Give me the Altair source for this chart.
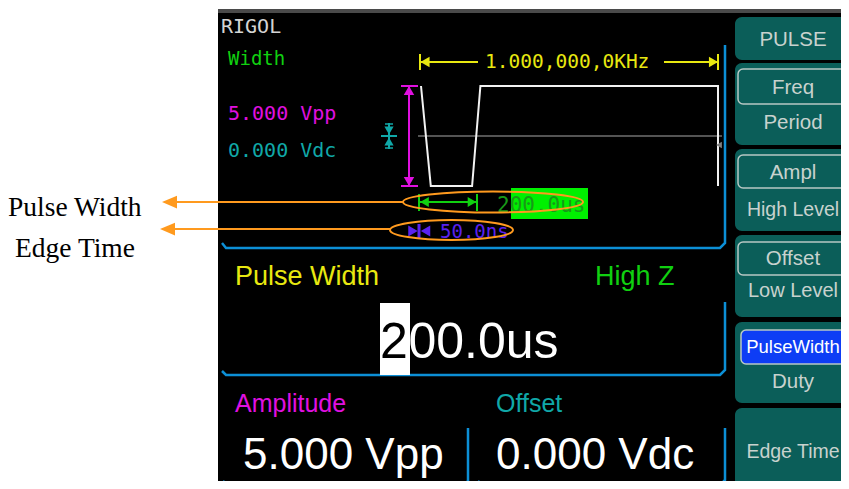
import altair as alt
import pandas as pd

# ------------------------------------------------------------------ content
SOFTKEY_LABELS = ["PULSE", "Freq", "Period", "Ampl", "High Level",
                  "Offset", "Low Level", "PulseWidth", "Duty", "Edge Time"]
STATUS_LABELS = ["RIGOL", "Width", "5.000 Vpp", "0.000 Vdc"]
FREQ_LABEL = "1.000,000,0KHz"
WIDTH_LABEL = "200.0us"
EDGE_LABEL = "50.0ns"
FIELD_LABELS = ["Pulse Width", "High Z", "Amplitude", "Offset"]
CURSOR_DIGIT = "2"                 # highlighted digit of the edited value
FIELD_VALUES = ["00.0us", "5.000 Vpp", "0.000 Vdc"]   # rest of "200.0us"
CALLOUT_LABELS = ["Pulse Width", "Edge Time"]

# pulse preview: time (us) and level (V); 1 ms period, 200 us width, 5 Vpp
WAVE_T_US = [0, 33, 172, 200, 1000, 1000]
WAVE_V = [2.5, -2.5, -2.5, 2.5, 2.5, -2.5]

# ------------------------------------------------------------------ layout
# (screen pixel geometry of the instrument display)
PREVIEW_X0, PX_PER_US = 421, 0.297
PREVIEW_YMID, PX_PER_V = 136, 20

XS = alt.Scale(domain=[8, 841], nice=False, zero=False)
YS = alt.Scale(domain=[8, 481], nice=False, zero=False, reverse=True)


def X(f):
    return alt.X(f, type="quantitative", scale=XS, axis=None)


def Y(f):
    return alt.Y(f, type="quantitative", scale=YS, axis=None)


def rect_layer(rows, radius=0, stroke=None, sw=0):
    d = pd.DataFrame(rows, columns=["x0", "x1", "y0", "y1", "fill"])
    kw = dict(cornerRadius=radius)
    if stroke:
        kw.update(stroke=stroke, strokeWidth=sw)
    return alt.Chart(d).mark_rect(**kw).encode(
        x=X("x0"), x2=alt.X2("x1"), y=Y("y0"), y2=alt.Y2("y1"),
        fill=alt.Fill("fill:N", scale=None))


def rule_layer(rows):
    d = pd.DataFrame(rows, columns=["x0", "x1", "y0", "y1", "c", "w"])
    return alt.Chart(d).mark_rule().encode(
        x=X("x0"), x2=alt.X2("x1"), y=Y("y0"), y2=alt.Y2("y1"),
        color=alt.Color("c:N", scale=None),
        strokeWidth=alt.StrokeWidth("w:Q", scale=None))


def point_layer(rows, filled=True, sw=0):
    d = pd.DataFrame(rows, columns=["x", "y", "shape", "size", "c"])
    return alt.Chart(d).mark_point(filled=filled, opacity=1, strokeWidth=sw).encode(
        x=X("x"), y=Y("y"),
        shape=alt.Shape("shape:N", scale=None),
        size=alt.Size("size:Q", scale=None),
        color=alt.Color("c:N", scale=None))


def text_layer(texts, xs, ys, colors, sizes, font, align="left",
               baseline="alphabetic"):
    d = pd.DataFrame({"t": texts, "x": xs, "y": ys, "c": colors, "s": sizes})
    return alt.Chart(d).mark_text(font=font, align=align, baseline=baseline).encode(
        x=X("x"), y=Y("y"), text="t:N",
        color=alt.Color("c:N", scale=None),
        size=alt.Size("s:Q", scale=None))


def ellipse_path(k):
    q = 0.5523
    return (f"M -1 0 C -1 {-q*k:.4f} {-q:.4f} {-k:.4f} 0 {-k:.4f} "
            f"C {q:.4f} {-k:.4f} 1 {-q*k:.4f} 1 0 "
            f"C 1 {q*k:.4f} {q:.4f} {k:.4f} 0 {k:.4f} "
            f"C {-q:.4f} {k:.4f} -1 {q*k:.4f} -1 0 Z")


TEAL_BTN = "#0b5e59"
BTN_TEXT = "#c8d2ce"
FRAME = "#0c8fd6"
MAG = "#e010e0"
CYAN = "#10a8a8"
YEL = "#e8e810"
GRN = "#10d010"
PURP = "#5a22f0"
ORANGE = "#ff9a1e"

layers = []

# display background
layers.append(rect_layer([
    [218, 870, 13, 500, "#000000"],
    [218, 870, 9, 13, "#4a4a4a"],
]))

# soft keys
layers.append(rect_layer([
    [735, 880, 17, 60, TEAL_BTN],
    [735, 880, 63, 145, TEAL_BTN],
    [735, 880, 149, 231, TEAL_BTN],
    [735, 880, 235, 317, TEAL_BTN],
    [735, 880, 322, 403, TEAL_BTN],
    [735, 880, 408, 500, TEAL_BTN],
], radius=7))
layers.append(rect_layer([
    [738, 880, 69, 104, TEAL_BTN],
    [738, 880, 155, 188, TEAL_BTN],
    [738, 880, 242, 275, TEAL_BTN],
    [741, 880, 330, 364, "#0d3df5"],
], radius=5, stroke="#b8c8c4", sw=1.5))

# blue frames
frames = [
    [(222, 243), (226, 248), (720, 248), (725, 243), (725, 45)],
    [(222, 371), (226, 375), (720, 375), (725, 370), (725, 302)],
    [(223, 481), (227, 485), (464, 485), (468, 481), (468, 428)],
    [(478, 481), (482, 485), (720, 485), (725, 480), (725, 428)],
]
fr = [{"seg": s, "i": i, "x": p[0], "y": p[1]}
      for s, pts in enumerate(frames) for i, p in enumerate(pts)]
layers.append(alt.Chart(pd.DataFrame(fr)).mark_line(
    color=FRAME, strokeWidth=2.5).encode(
    x=X("x"), y=Y("y"), detail="seg:N", order="i:Q"))

# center line and waveform
layers.append(rule_layer([[418, 722, PREVIEW_YMID, PREVIEW_YMID, "#707070", 1.5]]))
wave = pd.DataFrame({
    "i": range(len(WAVE_T_US)),
    "x": [PREVIEW_X0 + t * PX_PER_US for t in WAVE_T_US],
    "y": [PREVIEW_YMID - v * PX_PER_V for v in WAVE_V],
})
layers.append(alt.Chart(wave).mark_line(color="#f2f2f2", strokeWidth=2).encode(
    x=X("x"), y=Y("y"), order="i:Q"))

# markers (amplitude, offset, period, width, edge)
layers.append(rule_layer([
    [409, 409, 86, 186, MAG, 2], [401, 418, 86, 86, MAG, 2], [401, 418, 186, 186, MAG, 2],
    [389, 389, 123, 149, CYAN, 2], [381, 397, 136, 136, CYAN, 2],
    [385, 393, 124, 124, CYAN, 1.5], [385, 393, 148, 148, CYAN, 1.5],
    [420, 478, 62, 62, YEL, 2], [664, 718, 62, 62, YEL, 2],
    [420, 420, 54, 70, YEL, 2], [718, 718, 54, 70, YEL, 2],
    [419, 477, 202, 202, GRN, 2], [419, 419, 194, 211, GRN, 2], [477, 477, 194, 211, GRN, 2],
    [419, 419, 224, 238, PURP, 3],
]))
layers.append(point_layer([
    [409, 90.5, "triangle-up", 110, MAG], [409, 181.5, "triangle-down", 110, MAG],
    [389, 130.5, "triangle-down", 85, CYAN], [389, 141.5, "triangle-up", 85, CYAN],
    [425, 62, "triangle-left", 110, YEL], [713.5, 62, "triangle-right", 110, YEL],
    [424.5, 202, "triangle-left", 100, GRN], [472, 202, "triangle-right", 100, GRN],
    [413, 231, "triangle-right", 120, PURP], [425.5, 231, "triangle-left", 120, PURP],
    [719, 145, "triangle-left", 45, "#808080"],
]))

# highlight boxes
layers.append(rect_layer([
    [511, 588, 188, 219, "#00f000"],
    [380, 410, 303, 375, "#ffffff"],
]))

MONO = "DejaVu Sans Mono"
SANS = "Liberation Sans"

layers.append(text_layer(
    STATUS_LABELS + [FREQ_LABEL, WIDTH_LABEL, EDGE_LABEL],
    [221, 228, 228, 228, 485, 497, 440],
    [33, 65, 120, 157, 68, 212, 238],
    ["#d4d4d4", GRN, MAG, CYAN, YEL, "#189818", PURP],
    [20, 19, 20, 20, 19.5, 21, 19], MONO))
layers.append(text_layer(
    FIELD_LABELS, [235, 595, 235, 496], [285, 285, 412, 412],
    [YEL, GRN, MAG, CYAN], [27, 27, 25, 25], SANS))
layers.append(text_layer(
    [CURSOR_DIGIT] + FIELD_VALUES, [380, 408.5, 243, 496], [358, 358, 469, 469],
    ["#000000", "#ffffff", "#ffffff", "#ffffff"], [50, 50, 44, 44], SANS))
layers.append(text_layer(
    SOFTKEY_LABELS, [793] * 10,
    [40, 88, 123, 173, 210, 259, 291, 347, 382, 452],
    [BTN_TEXT] * 7 + ["#ffffff"] + [BTN_TEXT] * 2,
    [20.5, 20.5, 20.5, 20.5, 19.5, 20.5, 20, 18.5, 20.5, 19.5], SANS,
    align="center", baseline="middle"))

# callouts
layers.append(rule_layer([
    [176, 403, 202, 202, ORANGE, 2],
    [174, 390, 229, 229, ORANGE, 2],
]))
arrow_path = "M -1 0 L 1 -0.85 L 1 0.85 Z"
layers.append(point_layer([
    [169.5, 202, arrow_path, 225, ORANGE],
    [167.5, 229, arrow_path, 225, ORANGE],
]))
layers.append(point_layer([
    [493, 202, ellipse_path(10.5 / 90), 180 ** 2, ORANGE],
    [451.5, 230, ellipse_path(10 / 61.5), 123 ** 2, ORANGE],
], filled=False, sw=2))
layers.append(text_layer(
    CALLOUT_LABELS, [8, 15], [216, 257], ["#000000", "#000000"], [27.5, 27.5],
    "Liberation Serif"))

chart = alt.layer(*layers).properties(
    width=833, height=473, padding=0,
    autosize=alt.AutoSizeParams(type="none"),
    background="#ffffff",
).configure_view(stroke=None)

chart.save("out.html", embed_options={"renderer": "svg", "actions": False})
